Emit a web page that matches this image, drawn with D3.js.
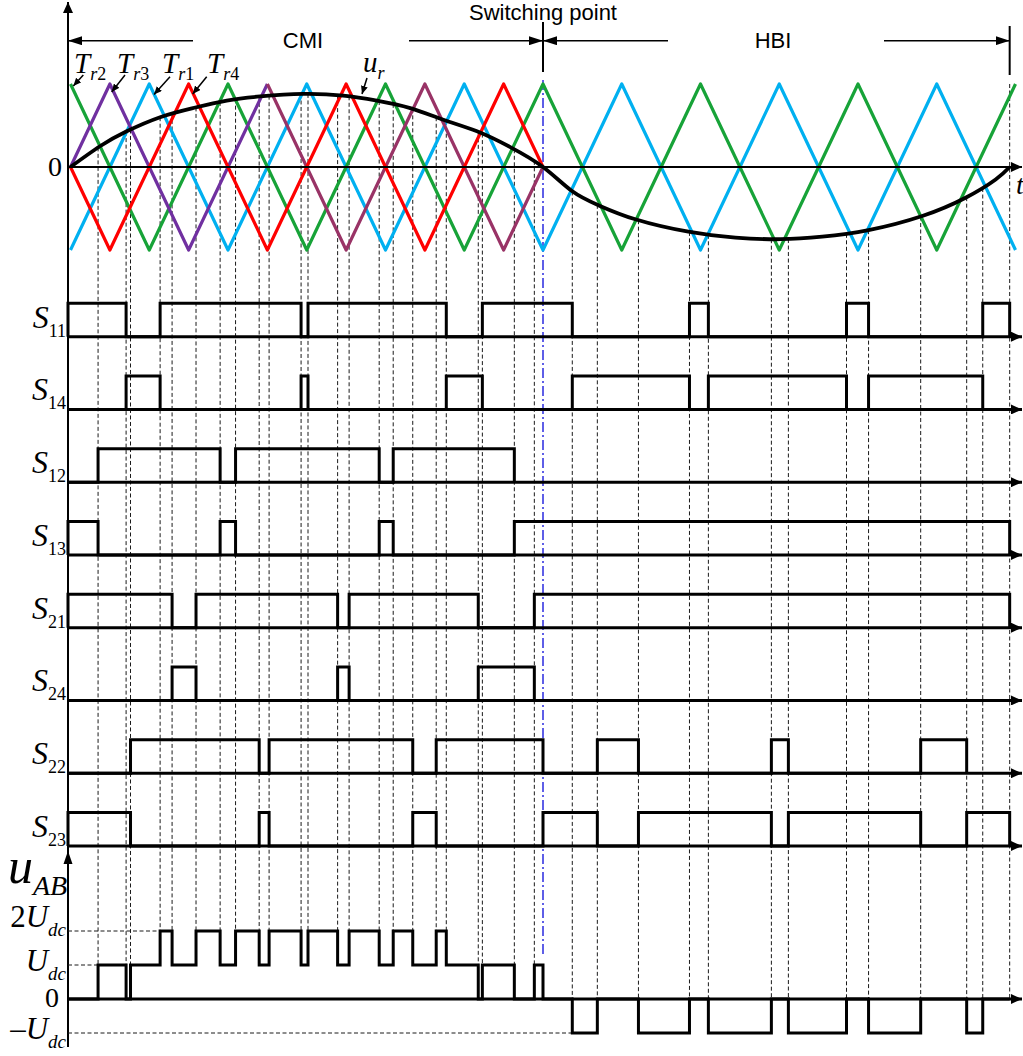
<!DOCTYPE html>
<html>
<head>
<meta charset="utf-8">
<script src="https://cdn.jsdelivr.net/npm/d3@7"></script>
<style>
  body { margin: 0; background: #fff; }
  svg { display: block; }
</style>
</head>
<body>
<div id="chart"></div>
<script>
// carrier vertices [t, value], t counted in carrier periods
const trGreen = [[0,1],[0.5,-1],[1,1],[1.5,-1],[2,1],[2.5,-1],[3,1],[3.5,-1],[4,1],[4.5,-1],[5,1],[5.5,-1],[6,1]];
const trCyan = [[0,-1],[0.5,1],[1,-1],[1.5,1],[2,-1],[2.5,1],[3,-1],[3.5,1],[4,-1],[4.5,1],[5,-1],[5.5,1],[6,-1]];
const trPurple = [[0,0],[0.25,1],[0.75,-1],[1.25,1]];
const trMagenta = [[1.25,1],[1.75,-1],[2.25,1],[2.75,-1],[3,0]];
const trRed = [[0,0],[0.25,-1],[0.75,1],[1.25,-1],[1.75,1],[2.25,-1],[2.75,1],[3,0]];

// reference wave u_r [t, value]
const uRef = [[0,0],[0.187,0.25],[0.357,0.43],[0.569,0.60],[0.778,0.71],[0.992,0.80],[1.204,0.85],
  [1.477,0.88],[1.731,0.86],[1.945,0.80],[2.157,0.71],[2.367,0.57],[2.581,0.43],[2.792,0.24],[3.0,0],
  [3.184,-0.29],[3.351,-0.46],[3.586,-0.63],[3.923,-0.78],[4.222,-0.85],[4.507,-0.87],[4.773,-0.84],
  [5.067,-0.76],[5.408,-0.59],[5.683,-0.37],[5.874,-0.15],[5.963,0]];

const switchT = 3.0;
const hbiEnd = 5.963;

// gate signals: on-intervals [start, end]
const rowNames = ["11","14","12","13","21","24","22","23"];
const s11 = [[0,0.353],[0.569,1.464],[1.508,2.386],[2.615,3.186],[3.930,4.050],[4.927,5.067],[5.792,5.963]];
const s14 = [[0.353,0.569],[1.464,1.508],[2.386,2.615],[3.186,3.930],[4.050,4.927],[5.067,5.792]];
const s12 = [[0.175,0.950],[1.048,1.960],[2.049,2.818]];
const s13 = [[0,0.175],[0.950,1.048],[1.960,2.049],[2.818,5.963]];
const s21 = [[0,0.645],[0.797,1.696],[1.769,2.589],[2.945,5.963]];
const s24 = [[0.645,0.797],[1.696,1.769],[2.589,2.945]];
const s22 = [[0.381,1.198],[1.261,2.173],[2.322,3.0],[3.345,3.606],[4.450,4.558],[5.398,5.690]];
const s23 = [[0,0.381],[1.198,1.261],[2.173,2.322],[3.0,3.345],[3.606,4.450],[4.558,5.398],[5.690,5.963]];

// output voltage steps [t, level in Udc]
const uabSteps = [[0,0],[0.175,1],[0.353,0],[0.381,1],[0.569,2],[0.645,1],[0.797,2],[0.950,1],[1.048,2],
  [1.198,1],[1.261,2],[1.464,1],[1.508,2],[1.696,1],[1.769,2],[1.960,1],[2.049,2],[2.173,1],[2.322,2],
  [2.386,1],[2.589,0],[2.615,1],[2.818,0],[2.945,1],[3.0,0],[3.186,-1],[3.345,0],[3.606,-1],[3.930,0],
  [4.050,-1],[4.450,0],[4.558,-1],[4.927,0],[5.067,-1],[5.398,0],[5.690,-1],[5.792,0],[5.963,0]];

// dashed lines at the comparison instants
const crossings = [0.175,0.353,0.381,0.569,0.645,0.797,0.950,1.048,1.198,1.261,1.464,1.508,1.696,1.769,
  1.960,2.049,2.173,2.322,2.386,2.589,2.615,2.818,2.945,3.186,3.345,3.606,3.930,4.050,4.450,4.558,4.927,
  5.067,5.398,5.690,5.792,5.963];

const carrierLabels = [["2",74],["3",117],["1",162],["4",207]];
const uabTicks = [2, 1, 0, -1];

const width = 1023, height = 1056;
const AXIS_X = 68;
const serif = "'Liberation Serif','Times New Roman',serif";
const sans = "'Liberation Sans',Arial,sans-serif";

const x = d3.scaleLinear().domain([0, 6]).range([70.5, 1015.5]);
const xs = t => (t <= 0 ? AXIS_X : x(t));
const yTop = d3.scaleLinear().domain([-1, 1]).range([250, 84]);
const yRow = d3.scalePoint().domain(rowNames).range([336.7, 846]);
const HIGH = 33.5;
const yU = d3.scaleLinear().domain([-1, 2]).range([1033, 931]);

const svg = d3.select("#chart").append("svg")
  .attr("width", width).attr("height", height);

const defs = svg.append("defs");
function marker(id, w, h) {
  defs.append("marker")
    .attr("id", id)
    .attr("viewBox", `0 0 ${w} ${h}`)
    .attr("refX", w).attr("refY", h / 2)
    .attr("markerWidth", w).attr("markerHeight", h)
    .attr("markerUnits", "userSpaceOnUse")
    .attr("orient", "auto")
    .append("path")
    .attr("d", `M0,0L${w},${h / 2}L0,${h}Z`)
    .attr("fill", "#000");
}
marker("ax", 11, 10);
marker("dim", 14, 9);
marker("ptr", 8, 7);

const line = d3.line();

// ---- top panel: sine path first (needed for dashed starts)
const sineLine = d3.line()
  .x(d => x(d[0])).y(d => yTop(d[1]))
  .curve(d3.curveNatural);

const dashG = svg.append("g");
const topG = svg.append("g");

const carriers = [
  { pts: trCyan, color: "#00b0f0" },
  { pts: trGreen, color: "#17a338" },
  { pts: trPurple, color: "#7030a0" },
  { pts: trMagenta, color: "#993366" },
  { pts: trRed, color: "#ff0000" }
];

topG.selectAll("path.carrier")
  .data(carriers)
  .enter()
  .append("path")
  .attr("class", "carrier")
  .attr("d", d => line(d.pts.map(p => [x(p[0]), yTop(p[1])])))
  .attr("fill", "none")
  .attr("stroke", d => d.color)
  .attr("stroke-width", 3.2)
  .attr("stroke-linejoin", "round");

const sinePath = topG.append("path")
  .attr("d", sineLine(uRef))
  .attr("fill", "none")
  .attr("stroke", "#000")
  .attr("stroke-width", 3.8);

// lookup of the drawn curve
const sNode = sinePath.node();
const sLen = sNode.getTotalLength();
const sSamples = d3.range(0, sLen, 0.5).map(l => sNode.getPointAtLength(l));
function sineYAt(px) {
  let best = sSamples[0];
  sSamples.forEach(p => { if (Math.abs(p.x - px) < Math.abs(best.x - px)) best = p; });
  return best.y;
}
function uabTopAt(t) {
  const i = uabSteps.findIndex(s => Math.abs(s[0] - t) < 0.002);
  if (i < 0) return yU(0);
  const prev = i > 0 ? uabSteps[i - 1][1] : 0;
  return yU(Math.max(prev, uabSteps[i][1]));
}

// dashed verticals
dashG.selectAll("line")
  .data(crossings)
  .enter()
  .append("line")
  .attr("x1", d => x(d)).attr("x2", d => x(d))
  .attr("y1", d => (d === hbiEnd ? yTop(1) : sineYAt(x(d))))
  .attr("y2", d => uabTopAt(d))
  .attr("stroke", "#1a1a1a")
  .attr("stroke-width", 1)
  .attr("stroke-dasharray", "4,2.5");

// switching point dash-dot
dashG.append("line")
  .attr("x1", x(switchT)).attr("x2", x(switchT))
  .attr("y1", yTop(1) - 4).attr("y2", yU(1) - 8)
  .attr("stroke", "#2a2ae0")
  .attr("stroke-width", 1.5)
  .attr("stroke-dasharray", "10,3,2,3");

// t axis
svg.append("line")
  .attr("x1", AXIS_X).attr("x2", 1022)
  .attr("y1", yTop(0)).attr("y2", yTop(0))
  .attr("stroke", "#000").attr("stroke-width", 2)
  .attr("marker-end", "url(#ax)");
svg.append("text")
  .attr("x", 1016).attr("y", 194)
  .attr("font-family", serif).attr("font-style", "italic").attr("font-size", 28)
  .text("t");
svg.append("text")
  .attr("x", 62).attr("y", 176)
  .attr("text-anchor", "end")
  .attr("font-family", serif).attr("font-size", 28)
  .text("0");

// vertical axis, arrow on top and arrow for u_AB
svg.append("line")
  .attr("x1", AXIS_X).attr("x2", AXIS_X)
  .attr("y1", 1047).attr("y2", 2)
  .attr("stroke", "#000").attr("stroke-width", 2)
  .attr("marker-end", "url(#ax)");
svg.append("path")
  .attr("d", `M${AXIS_X},851L${AXIS_X - 4.5},864L${AXIS_X + 4.5},864Z`)
  .attr("fill", "#000");

// CMI / HBI dimension arrows
const dimY = 40.7;
[[193, AXIS_X], [409, x(switchT)], [668, x(switchT)], [884, x(hbiEnd)]].forEach(([a, b]) => {
  svg.append("line")
    .attr("x1", a).attr("x2", b).attr("y1", dimY).attr("y2", dimY)
    .attr("stroke", "#000").attr("stroke-width", 1.5)
    .attr("marker-end", "url(#dim)");
});
[[x(switchT), 22, 72], [x(hbiEnd), 26, 75]].forEach(([px, a, b]) => {
  svg.append("line")
    .attr("x1", px).attr("x2", px).attr("y1", a).attr("y2", b)
    .attr("stroke", "#000").attr("stroke-width", 2);
});
svg.append("text").attr("x", x(switchT)).attr("y", 20).attr("text-anchor", "middle")
  .attr("font-family", sans).attr("font-size", 22).text("Switching point");
svg.append("text").attr("x", 303).attr("y", 48).attr("text-anchor", "middle")
  .attr("font-family", sans).attr("font-size", 22).text("CMI");
svg.append("text").attr("x", 773).attr("y", 48).attr("text-anchor", "middle")
  .attr("font-family", sans).attr("font-size", 22).text("HBI");

// carrier labels with pointers
const ptrs = [[[83.3, 75], [73.3, 86]], [[125, 75], [111.7, 92]], [[170, 76.7], [154, 94.5]], [[206.7, 76.7], [192.7, 94]]];
carrierLabels.forEach(([n, px]) => {
  const t = svg.append("text").attr("x", px).attr("y", 73)
    .attr("font-family", serif).attr("font-size", 29);
  t.append("tspan").attr("font-style", "italic").text("T");
  t.append("tspan").attr("font-style", "italic").attr("font-size", 18).attr("dy", 7).text("r");
  t.append("tspan").attr("font-size", 18).text(n);
});
ptrs.forEach(p => {
  svg.append("line")
    .attr("x1", p[0][0]).attr("y1", p[0][1]).attr("x2", p[1][0]).attr("y2", p[1][1])
    .attr("stroke", "#000").attr("stroke-width", 1.5)
    .attr("marker-end", "url(#ptr)");
});
const ur = svg.append("text").attr("x", 363).attr("y", 72)
  .attr("font-family", serif).attr("font-style", "italic").attr("font-size", 29);
ur.append("tspan").text("u");
ur.append("tspan").attr("font-size", 18).attr("dy", 7).text("r");
svg.append("line")
  .attr("x1", 367).attr("y1", 78).attr("x2", 362).attr("y2", 94)
  .attr("stroke", "#000").attr("stroke-width", 1.5)
  .attr("marker-end", "url(#ptr)");

// ---- gate signal rows
const signals = [s11, s14, s12, s13, s21, s24, s22, s23];
function wavePoints(intervals, base) {
  const pts = [[AXIS_X, base]];
  intervals.forEach(([a, b]) => {
    pts.push([xs(a), base], [xs(a), base - HIGH], [x(b), base - HIGH], [x(b), base]);
  });
  return pts;
}
const rowG = svg.append("g");
rowNames.forEach((name, i) => {
  const base = yRow(name);
  rowG.append("line")
    .attr("x1", AXIS_X).attr("x2", 1022)
    .attr("y1", base).attr("y2", base)
    .attr("stroke", "#000").attr("stroke-width", 3)
    .attr("marker-end", "url(#ax)");
  rowG.append("path")
    .attr("d", line(wavePoints(signals[i], base)))
    .attr("fill", "none")
    .attr("stroke", "#000")
    .attr("stroke-width", 3)
    .attr("stroke-linejoin", "miter");
  const lab = rowG.append("text")
    .attr("x", 66).attr("y", base - 9)
    .attr("text-anchor", "end")
    .attr("font-family", serif).attr("font-size", 32);
  lab.append("tspan").attr("font-style", "italic").text("S");
  lab.append("tspan").attr("font-size", 18).attr("dy", 9).text(name);
});

// ---- u_AB panel
svg.append("line")
  .attr("x1", AXIS_X).attr("x2", 1022)
  .attr("y1", yU(0)).attr("y2", yU(0))
  .attr("stroke", "#000").attr("stroke-width", 3)
  .attr("marker-end", "url(#ax)");

// level guides
[[2, 0.569], [1, 0.175], [-1, 3.186]].forEach(([lv, t]) => {
  svg.append("line")
    .attr("x1", AXIS_X).attr("x2", x(t))
    .attr("y1", yU(lv)).attr("y2", yU(lv))
    .attr("stroke", "#1a1a1a").attr("stroke-width", 1)
    .attr("stroke-dasharray", "4,2.5");
});

const uabPts = [[AXIS_X, yU(0)]];
let prevLv = 0;
uabSteps.forEach(([t, lv]) => {
  uabPts.push([xs(t), yU(prevLv)], [xs(t), yU(lv)]);
  prevLv = lv;
});
svg.append("path")
  .attr("d", line(uabPts))
  .attr("fill", "none")
  .attr("stroke", "#000")
  .attr("stroke-width", 3);

const uab = svg.append("text").attr("x", 8).attr("y", 883)
  .attr("font-family", serif).attr("font-style", "italic").attr("font-size", 50);
uab.append("tspan").text("u");
uab.append("tspan").attr("font-size", 28).attr("dy", 12).text("AB");

uabTicks.forEach(lv => {
  if (lv === 0) {
    svg.append("text").attr("x", 59).attr("y", yU(0) + 8)
      .attr("text-anchor", "end")
      .attr("font-family", serif).attr("font-size", 28)
      .text("0");
    return;
  }
  const t = svg.append("text")
    .attr("x", 66).attr("y", yU(lv) + 6 - (lv === 2 ? 10 : 0))
    .attr("text-anchor", "end")
    .attr("font-family", serif).attr("font-size", 31);
  if (lv === 2) t.append("tspan").text("2");
  if (lv === -1) t.append("tspan").text("\u2013");
  t.append("tspan").attr("font-style", "italic").text("U");
  t.append("tspan").attr("font-style", "italic").attr("font-size", 19).attr("dy", 9).text("dc");
});
</script>
</body>
</html>
